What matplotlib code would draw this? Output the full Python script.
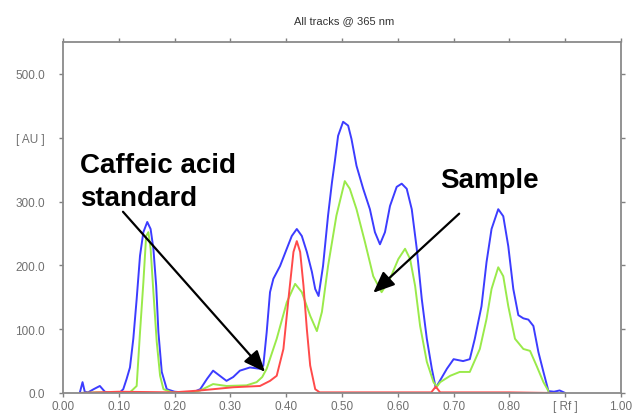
import matplotlib
matplotlib.use("Agg")
import matplotlib.pyplot as plt

# Rf positions and intensities
blue_x = [0.030, 0.035, 0.039, 0.045, 0.055, 0.066, 0.075, 0.085, 0.101, 0.108, 0.114, 0.120, 0.126, 0.132,
          0.138, 0.144, 0.151, 0.157, 0.162, 0.167, 0.171, 0.177, 0.186, 0.200, 0.230, 0.246, 0.258, 0.269,
          0.281, 0.293, 0.305, 0.317, 0.335, 0.353, 0.359, 0.365, 0.371, 0.377, 0.389, 0.401, 0.410, 0.419,
          0.428, 0.437, 0.446, 0.452, 0.458, 0.466, 0.475, 0.482, 0.487, 0.493, 0.502, 0.511, 0.517, 0.526,
          0.538, 0.550, 0.559, 0.568, 0.577, 0.586, 0.598, 0.607, 0.616, 0.625, 0.634, 0.643, 0.652, 0.661,
          0.668, 0.676, 0.688, 0.700, 0.717, 0.729, 0.738, 0.750, 0.759, 0.768, 0.780, 0.789, 0.798, 0.807,
          0.816, 0.825, 0.834, 0.843, 0.852, 0.861, 0.870, 0.880, 0.890, 0.900]
blue_y = [0, 17, 2, 1, 6, 11, 2, 0, 0, 6, 22, 40, 85, 147,
          215, 252, 268, 257, 226, 168, 95, 33, 6, 2, 0, 6, 22, 35,
          27, 19, 25, 35, 40, 38, 43, 95, 158, 179, 199, 226, 246, 257,
          246, 221, 190, 163, 152, 199, 278, 330, 362, 403, 425, 419, 398, 356,
          320, 288, 252, 233, 252, 293, 323, 328, 320, 288, 226, 147, 85, 38,
          8, 20, 38, 53, 50, 53, 85, 136, 205, 257, 288, 277, 230, 163,
          122, 117, 115, 105, 64, 33, 3, 2, 4, 0]

green_x = [0.030, 0.060, 0.100, 0.120, 0.126, 0.132, 0.138, 0.144, 0.149, 0.153, 0.157, 0.162, 0.168, 0.174,
           0.180, 0.195, 0.230, 0.246, 0.269, 0.293, 0.329, 0.347, 0.357, 0.365, 0.383, 0.401, 0.416, 0.428,
           0.443, 0.455, 0.464, 0.475, 0.490, 0.505, 0.514, 0.526, 0.541, 0.556, 0.571, 0.586, 0.601, 0.613,
           0.622, 0.631, 0.640, 0.652, 0.664, 0.670, 0.676, 0.694, 0.711, 0.729, 0.747, 0.759, 0.768, 0.780,
           0.789, 0.798, 0.810, 0.825, 0.837, 0.849, 0.861, 0.870]
green_y = [0, 1, 0, 1, 6, 11, 95, 173, 246, 252, 226, 158, 80, 27,
           6, 1, 0, 4, 14, 11, 12, 17, 25, 38, 85, 142, 171, 158,
           121, 97, 127, 199, 278, 332, 320, 288, 237, 183, 158, 179, 210, 226,
           210, 168, 105, 49, 17, 10, 17, 27, 33, 33, 69, 116, 163, 197,
           183, 136, 85, 69, 66, 42, 17, 3]

red_x = [0.030, 0.100, 0.198, 0.246, 0.305, 0.353, 0.371, 0.383, 0.395, 0.404, 0.413, 0.419, 0.425, 0.431,
         0.437, 0.443, 0.452, 0.460, 0.550, 0.660, 0.668, 0.676, 0.800, 0.880]
red_y = [0, 2, 1, 4, 9, 11, 19, 27, 69, 147, 221, 238, 221, 168,
         100, 43, 6, 1, 1, 1, 10, 1, 1, 0]

x_ticks = [0.0, 0.1, 0.2, 0.3, 0.4, 0.5, 0.6, 0.7, 0.8, 0.9, 1.0]
x_labels = ["0.00", "0.10", "0.20", "0.30", "0.40", "0.50", "0.60", "0.70", "0.80", "[ Rf ]", "1.00"]
y_ticks = [0, 100, 200, 300, 400, 500]
y_labels = ["0.0", "100.0", "200.0", "300.0", "[ AU ]", "500.0"]

plt.rcParams['font.family'] = ['Liberation Sans', 'DejaVu Sans']

fig = plt.figure(figsize=(6.36, 4.14), dpi=100)
ax = fig.add_axes([63/636, 1 - 394/414, (621 - 63)/636, (394 - 43)/414])

line_kw = dict(lw=1.4, solid_joinstyle="round", solid_capstyle="round")
ax.plot(blue_x, blue_y, color="#3c3cff", **line_kw)
ax.plot(green_x, green_y, color="#9aea4a", **line_kw)
ax.plot(red_x, red_y, color="#ff4a4a", **line_kw)

ax.set_xlim(0, 1.0)
ax.set_ylim(0, 550)
ax.set_xticks(x_ticks)
ax.set_xticklabels(x_labels)
ax.set_yticks(y_ticks)
ax.set_yticklabels(y_labels)
ax.tick_params(axis='both', colors="#808080", labelcolor="#707070", labelsize=8.5, length=3, width=1)
ax.tick_params(top=True, right=True, direction='out')
ax.tick_params(axis='y', pad=10)
ax.tick_params(axis='x', pad=2)
for s in ax.spines.values():
    s.set_color("#8a8a8a")
    s.set_linewidth(1.3)

fig.text(344/636, 1 - 21/414, "All tracks @ 365 nm", ha="center", va="center",
         fontsize=8, color="#333333")

ax.text(0.030, 346, "Caffeic acid", fontsize=20, fontweight="bold", ha="left", va="baseline", color="black")
ax.text(0.030, 295, "standard", fontsize=20, fontweight="bold", ha="left", va="baseline", color="black")
ax.text(0.676, 323, "Sample", fontsize=20, fontweight="bold", ha="left", va="baseline", color="black")

arrow = dict(arrowstyle="-|>,head_length=1.3,head_width=0.55", color="black", lw=1.6, shrinkA=0, shrinkB=0)
ax.annotate("", xy=(0.362, 33), xytext=(0.1075, 284), arrowprops=arrow)
ax.annotate("", xy=(0.556, 157), xytext=(0.710, 281), arrowprops=arrow)

fig.savefig("out.png", dpi=100)
